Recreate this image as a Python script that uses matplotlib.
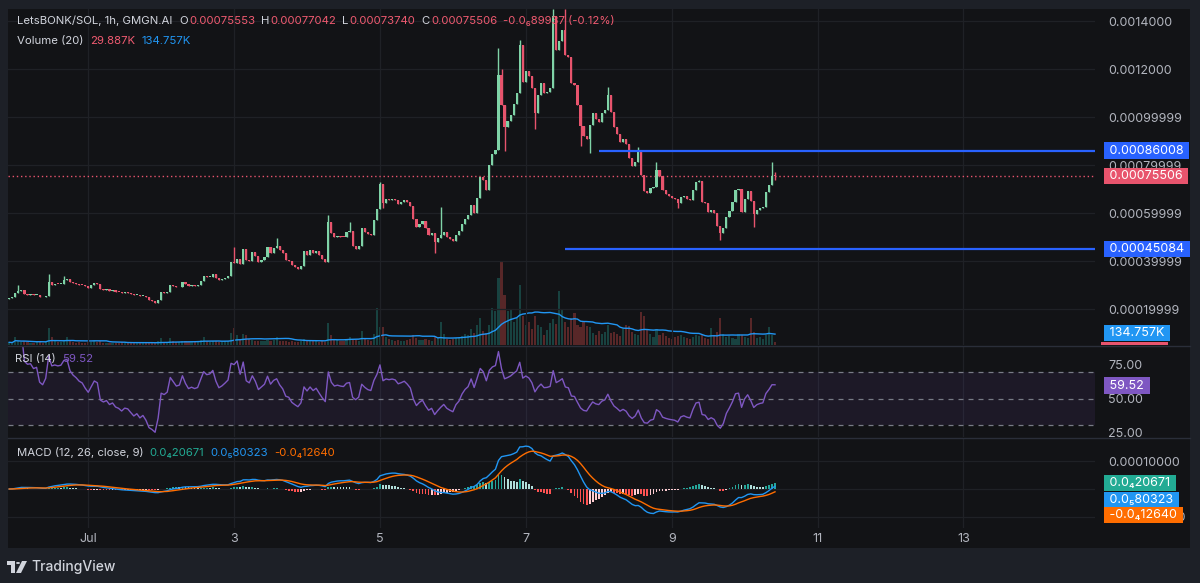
import numpy as np
import pandas as pd
import matplotlib
matplotlib.use('Agg')
from matplotlib import pyplot as plt
from matplotlib import transforms
from matplotlib.patches import Rectangle, Polygon, Circle
from matplotlib.lines import Line2D

plt.rcParams['font.family'] = ['Inter', 'DejaVu Sans']

# hourly closes, in units of 1e-5 SOL (first candle = Jun 29 22:00)
close_e5 = [
    24.5, 24.8, 26.8, 27.5, 27.8, 26.2, 26.0, 26.1, 25.8, 26.0,
    25.0, 24.8, 25.6, 31.3, 30.2, 30.5, 30.4, 30.6, 32.2, 32.6,
    31.4, 30.9, 30.6, 30.2, 30.0, 29.4, 28.9, 29.8, 30.8, 30.6,
    28.3, 28.0, 28.2, 27.6, 27.8, 27.2, 27.0, 26.6, 26.9, 26.8,
    26.3, 25.8, 26.0, 25.4, 25.6, 24.9, 23.6, 23.2, 22.6, 23.8,
    27.0, 26.8, 27.2, 30.2, 29.6, 29.0, 29.2, 31.4, 30.3, 29.5,
    29.8, 29.6, 29.8, 31.5, 33.6, 33.2, 33.4, 34.4, 33.0, 32.0,
    32.4, 33.0, 33.7, 39.4, 39.2, 41.0, 38.8, 45.2, 40.6, 40.0,
    43.6, 42.0, 39.4, 40.6, 41.8, 46.0, 43.5, 45.5, 46.4, 44.5,
    43.2, 40.6, 40.2, 38.3, 37.4, 36.6, 37.8, 44.0, 42.6, 44.4,
    43.2, 44.2, 42.6, 41.0, 39.6, 56.4, 51.8, 50.0, 50.6, 50.2,
    50.0, 52.0, 52.4, 46.2, 45.0, 46.2, 53.6, 52.2, 51.2, 50.8,
    57.0, 61.8, 72.0, 64.0, 65.8, 65.4, 66.0, 65.6, 63.8, 64.6,
    65.6, 64.4, 62.8, 57.6, 54.0, 55.6, 56.6, 53.6, 51.0, 51.8,
    48.0, 49.6, 51.0, 52.2, 50.2, 49.2, 48.4, 51.0, 52.4, 55.4,
    57.6, 59.0, 63.4, 60.2, 66.4, 75.0, 73.6, 69.6, 80.0, 84.4,
    86.2, 117.5, 105.0, 96.0, 98.2, 101.0, 105.6, 110.0, 130.0, 114.6,
    119.0, 117.0, 112.0, 101.6, 109.0, 114.2, 110.2, 110.6, 112.0, 142.0,
    128.0, 131.6, 136.2, 126.0, 125.0, 114.0, 113.4, 105.0, 96.2, 92.0,
    91.0, 96.5, 101.5, 99.0, 98.0, 101.6, 103.0, 109.2, 102.0, 96.0,
    93.0, 89.4, 91.0, 88.8, 83.0, 79.6, 81.4, 85.8, 76.0, 69.0,
    68.4, 70.4, 71.0, 77.8, 75.6, 69.4, 68.0, 67.0, 66.4, 65.8,
    64.0, 66.6, 67.2, 66.0, 65.4, 69.4, 72.8, 73.2, 64.6, 64.0,
    60.4, 61.2, 59.8, 54.4, 51.6, 53.6, 58.2, 61.0, 64.4, 69.4,
    69.8, 60.4, 66.0, 69.0, 65.0, 59.4, 61.2, 62.0, 62.4, 68.6,
    71.6, 75.553, 75.506,
]
first_open_e5 = 24.2

# notable wicks (candle index: price in 1e-5)
high_e5 = {3: 30.0, 13: 34.6, 18: 33.6, 74: 46.0, 88: 49.6, 105: 59.2, 112: 56.4,
           122: 73.0, 142: 62.4, 161: 128.6, 162: 120.0, 168: 132.0, 179: 145.0,
           183: 145.0, 197: 112.6, 207: 87.6, 213: 81.4, 227: 73.7, 251: 81.4,
           252: 77.042}
low_e5 = {123: 62.0, 140: 43.5, 163: 86.0, 173: 95.0, 188: 88.0, 191: 85.0,
          220: 62.0, 234: 48.8, 245: 54.3, 252: 73.740}

# hourly volume, thousands
vol_k = [
    30, 25, 90, 40, 35, 45, 30, 25, 20, 30,
    40, 25, 30, 190, 90, 40, 30, 35, 60, 90,
    40, 30, 25, 30, 20, 25, 30, 35, 45, 30,
    40, 25, 20, 25, 20, 25, 20, 30, 20, 25,
    20, 25, 20, 25, 20, 30, 35, 30, 25, 40,
    80, 35, 30, 75, 40, 35, 30, 50, 40, 30,
    35, 30, 40, 60, 90, 40, 35, 50, 40, 30,
    35, 40, 45, 140, 190, 110, 60, 120, 110, 70,
    60, 45, 40, 50, 45, 60, 50, 55, 90, 50,
    45, 40, 35, 40, 35, 30, 40, 70, 50, 60,
    45, 40, 35, 40, 30, 250, 110, 70, 60, 50,
    45, 70, 90, 60, 55, 50, 160, 70, 55, 50,
    120, 420, 200, 200, 90, 70, 60, 50, 60, 45,
    50, 60, 70, 110, 80, 60, 55, 70, 60, 50,
    90, 80, 260, 120, 70, 60, 65, 80, 90, 100,
    120, 110, 180, 130, 220, 300, 160, 140, 220, 420,
    380, 750, 930, 560, 380, 390, 260, 300, 670, 330,
    220, 260, 180, 330, 220, 200, 110, 170, 250, 290,
    240, 610, 400, 260, 200, 300, 360, 220, 200, 260,
    210, 200, 140, 110, 160, 120, 150, 220, 130, 150,
    120, 100, 180, 220, 210, 150, 120, 110, 370, 330,
    180, 120, 90, 180, 110, 130, 100, 80, 70, 90,
    100, 110, 90, 80, 70, 90, 110, 100, 120, 80,
    70, 190, 110, 150, 300, 120, 90, 100, 80, 70,
    120, 110, 90, 80, 300, 150, 80, 90, 70, 110,
    200, 110, 29.887,
]
assert len(vol_k) == len(close_e5)

level_hi = 86.008e-5
level_lo = 45.084e-5
level_hi_start = 168   # hours after Jul 1 00:00
level_lo_start = 157

day_ticks = [0, 48, 96, 144, 192, 240, 288]
day_labels = ['Jul', '3', '5', '7', '9', '11', '13']
price_ticks = [140e-5, 120e-5, 100e-5, 80e-5, 60e-5, 40e-5, 20e-5]
price_labels = ['0.0014000', '0.0012000', '0.00099999', '0.00079999',
                '0.00059999', '0.00039999', '0.00019999']

# ---- derived series
close = np.array(close_e5) * 1e-5
opn = np.r_[first_open_e5 * 1e-5, close[:-1]]
hi = np.maximum(opn, close)
lo = np.minimum(opn, close)
for k, v in high_e5.items():
    hi[k] = max(hi[k], v * 1e-5)
for k, v in low_e5.items():
    lo[k] = min(lo[k], v * 1e-5)
vol = np.array(vol_k)
N = len(close)
hours = np.arange(N) - 26

s = pd.Series(close)
d = s.diff()
up = d.clip(lower=0).ewm(alpha=1/14, adjust=False).mean()
dn = (-d.clip(upper=0)).ewm(alpha=1/14, adjust=False).mean()
rsi = 100 - 100 / (1 + up / dn)
macd = s.ewm(span=12, adjust=False).mean() - s.ewm(span=26, adjust=False).mean()
signal = macd.ewm(span=9, adjust=False).mean()
hist = (macd - signal).values
vol_ma = pd.Series(vol).rolling(20, min_periods=1).mean()

# ---- colours
BG_OUT = '#1d2027'
BG = '#121316'
GRID = '#1f2126'
TXT = '#b2b5be'
HEAD = '#d1d4dc'
UP = '#7fd3a7'
DOWN = '#e8546d'
RED_TXT = '#ef5a70'
BLUE = '#2962ff'
LBLUE = '#2196f3'
PURPLE = '#7e57c2'
ORANGE = '#ff6d00'
TEAL = '#22ab94'

W, H = 1200, 583
fig = plt.figure(figsize=(W / 100, H / 100), dpi=100, facecolor=BG_OUT)
fig.add_artist(Rectangle((8 / W, 1 - 548 / H), 1182 / W, 539 / H,
                         transform=fig.transFigure, fc=BG, ec='none', zorder=-10))

def style(ax):
    ax.set_facecolor('none')
    for sp in ax.spines.values():
        sp.set_visible(False)
    ax.set_xlim(-26.4, 331.3)
    ax.set_xticks(day_ticks)
    ax.yaxis.tick_right()
    ax.tick_params(length=0, colors=TXT, labelsize=9)
    ax.tick_params(axis='y', pad=9.4)
    ax.grid(True, color=GRID, lw=0.9)
    ax.set_axisbelow(True)

def pax(top, bottom):
    ax = fig.add_axes([8 / W, 1 - bottom / H, 1087 / W, (bottom - top) / H])
    style(ax)
    return ax

ax_p = pax(9, 345)
ax_r = pax(347, 437)
ax_m = pax(439, 528)

# ---- price pane
ax_v = ax_p.twinx()
ax_p.set_zorder(2)
ax_v.set_zorder(1)
style(ax_p)
ax_v.set_ylim(0, 3775)
ax_v.set_xlim(-26.4, 331.3)
ax_v.axis('off')
vcols = np.where(close >= opn, '#26a69a', '#ef5350')
ax_v.bar(hours, vol, width=0.7, color=vcols, alpha=0.32, lw=0)
ax_v.plot(hours, vol_ma, color=LBLUE, lw=1)

ccols = np.where(close >= opn, UP, DOWN)
ax_p.vlines(hours, lo, hi, colors=ccols, lw=1, zorder=3)
body = np.maximum(np.abs(close - opn), 0.35e-5)
ax_p.bar(hours, body, bottom=np.minimum(opn, close), width=0.72,
         color=ccols, lw=0, zorder=4)
ax_p.set_ylim(5e-5, 145e-5)
ax_p.set_yticks(price_ticks)
ax_p.set_yticklabels(price_labels)
ax_p.set_xticklabels([])
ax_p.axhline(close[-1], color=DOWN, lw=1, ls=(0, (1, 2)), zorder=2)
ax_p.hlines(level_hi, level_hi_start, 331.3, color=BLUE, lw=1.6, zorder=5)
ax_p.hlines(level_lo, level_lo_start, 331.3, color=BLUE, lw=1.6, zorder=5)

def badge(ax, val, text, color):
    tr = transforms.blended_transform_factory(ax.transAxes, ax.transData)
    ax.text(1 + 11 / 1087, val, ' ' + text + ' ', transform=tr, va='center',
            ha='left', fontsize=9, color='white', clip_on=False, zorder=20,
            bbox=dict(boxstyle='square,pad=0.18', fc=color, ec='none'))

badge(ax_p, level_hi, '0.00086008', BLUE)
badge(ax_p, close[-1], '0.00075506', DOWN)
badge(ax_p, level_lo, '0.00045084', BLUE)
fig.add_artist(Rectangle((1101 / W, 1 - 345 / H), 67 / W, 3 / H,
                         transform=fig.transFigure, fc=DOWN, ec='none', zorder=5))
badge(ax_v, 134.757, '134.757K', LBLUE)

# ---- RSI pane
ax_r.axhspan(30, 70, color=PURPLE, alpha=0.1, lw=0)
for lv in (70, 50, 30):
    ax_r.axhline(lv, color='#787b86', lw=0.9, ls=(0, (4, 4)))
ax_r.plot(hours, rsi, color=PURPLE, lw=1)
ax_r.set_ylim(21.3, 88.4)
ax_r.set_yticks([75, 50, 25])
ax_r.set_yticklabels(['75.00', '50.00', '25.00'])
ax_r.set_xticklabels([])
ax_r.grid(False, axis='y')
badge(ax_r, 59.52, '59.52', PURPLE)

# ---- MACD pane
hcols = []
for i in range(N):
    prev = hist[i - 1] if i > 0 else 0
    if hist[i] >= 0:
        hcols.append('#26a69a' if hist[i] > prev else '#b2dfdb')
    else:
        hcols.append('#ff5252' if hist[i] < prev else '#ffcdd2')
ax_m.bar(hours, hist, width=0.6, color=hcols, lw=0)
ax_m.plot(hours, macd, color=LBLUE, lw=1)
ax_m.plot(hours, signal, color=ORANGE, lw=1)
ax_m.set_ylim(-1.393e-4, 1.786e-4)
ax_m.set_yticks([1e-4, 0, -1e-4])
ax_m.set_yticklabels(['0.00010000', '', '-0.00010000'])
ax_m.set_xticklabels(day_labels)
ax_m.tick_params(axis='x', pad=3.5)
# tags are pushed apart so they do not overlap
badge(ax_m, 0.214e-4, '0.0\u208420671', TEAL)
badge(ax_m, -0.39e-4, '0.0\u208580323', LBLUE)
badge(ax_m, -0.93e-4, '-0.0\u208412640', ORANGE)

# pane separators
for yy in (346, 438):
    fig.add_artist(Line2D([8 / W, 1190 / W], [1 - yy / H] * 2, color='#2a2e39',
                          lw=1, transform=fig.transFigure))

# ---- legends
r = fig.canvas.get_renderer()

def row(x0, y, parts, size=8.2):
    x = x0
    for txt, col, gap in parts:
        t = fig.text(x / W, 1 - y / H, txt, color=col, fontsize=size,
                     va='center', ha='left', zorder=30)
        bb = t.get_window_extent(renderer=r)
        x = bb.x1 + gap

row(17, 21, [('LetsBONK/SOL, 1h, GMGN.AI', HEAD, 7),
             ('O', HEAD, 1), ('0.00075553', RED_TXT, 6),
             ('H', HEAD, 1), ('0.00077042', RED_TXT, 6),
             ('L', HEAD, 1), ('0.00073740', RED_TXT, 6),
             ('C', HEAD, 1), ('0.00075506', RED_TXT, 6),
             ('-0.0\u208689937 (-0.12%)', RED_TXT, 0)])
row(17, 41, [('Volume (20)', HEAD, 7), ('29.887K', RED_TXT, 6),
             ('134.757K', LBLUE, 0)])
row(15, 359, [('RSI (14)', HEAD, 6), ('59.52', PURPLE, 0)])
row(17, 453, [('MACD (12, 26, close, 9)', HEAD, 6), ('0.0\u208420671', TEAL, 6),
              ('0.0\u208580323', LBLUE, 6), ('-0.0\u208412640', ORANGE, 0)])

# ---- TradingView mark
def P(x, y):
    return (x / W, 1 - y / H)

fig.add_artist(Polygon([P(7, 561), P(15, 561), P(15, 573), P(11, 573), P(11, 565), P(7, 565)],
                       closed=True, transform=fig.transFigure, fc=HEAD, ec='none'))
fig.add_artist(Circle(P(18, 563), 2 / W, transform=fig.transFigure, fc=HEAD, ec='none'))
fig.add_artist(Polygon([P(22, 561), P(27, 561), P(21, 573), P(16, 573)],
                       closed=True, transform=fig.transFigure, fc=HEAD, ec='none'))
fig.text(31 / W, 1 - 567 / H, 'TradingView', color=HEAD, fontsize=10,
         fontweight='medium', va='center', ha='left')

fig.savefig('out.png', dpi=100, facecolor=fig.get_facecolor())
